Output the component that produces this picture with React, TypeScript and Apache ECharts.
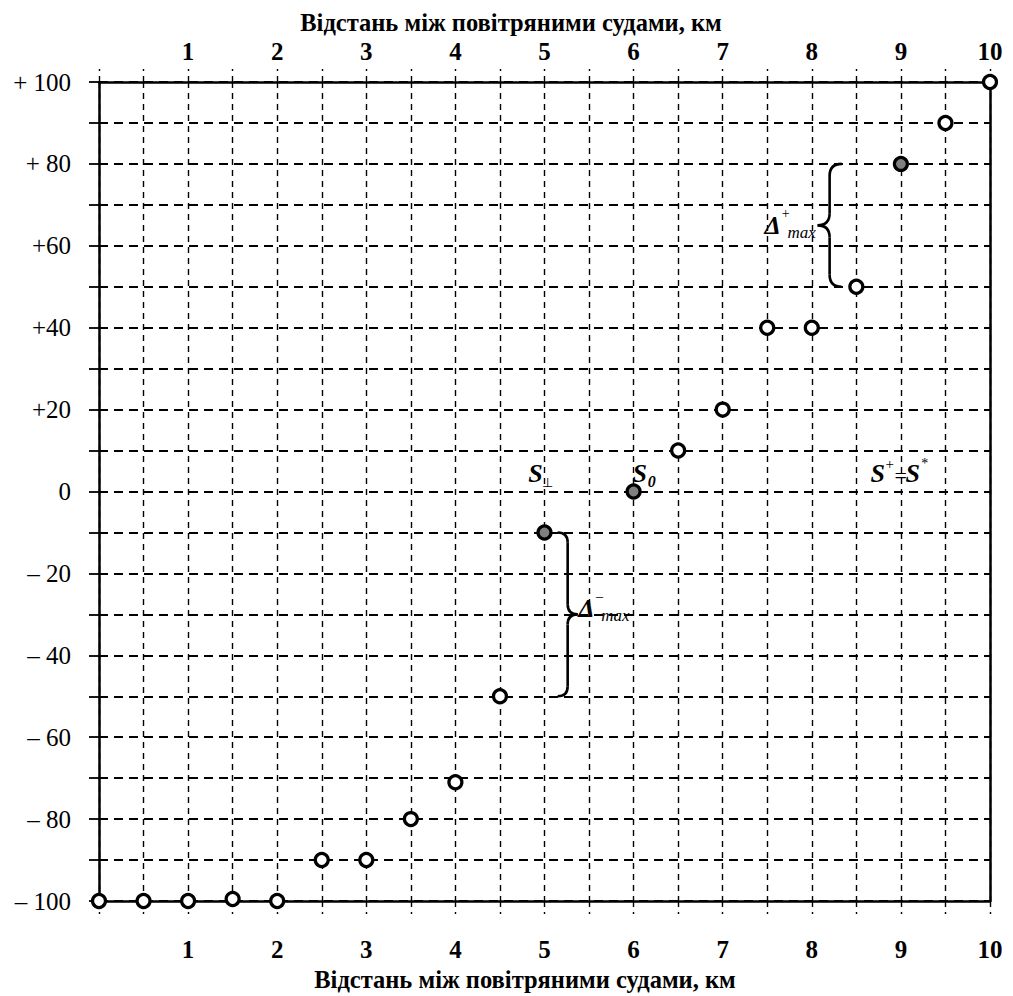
import React, { useEffect, useRef } from "react";
import * as echarts from "echarts";

const xValues = [0, 0.5, 1, 1.5, 2, 2.5, 3, 3.5, 4, 4.5, 5, 6, 6.5, 7, 7.5, 8, 8.5, 9, 9.5, 10];
const yValues = [-100, -100, -100, -99.5, -100, -90, -90, -80, -71, -50, -10, 0, 10, 20, 40, 40, 50, 80, 90, 100];
const filledX = [5, 6, 9];
const xTickLabels = ["1", "2", "3", "4", "5", "6", "7", "8", "9", "10"];
const yTickValues = [100, 80, 60, 40, 20, 0, -20, -40, -60, -80, -100];
const yTickLabels = ["+ 100", "+ 80", "+60", "+40", "+20", "0", "\u2013 20", "\u2013 40", "\u2013 60", "\u2013 80", "\u2013 100"];
const axisTitle = "Відстань між повітряними судами, км";

const SERIF = "Liberation Serif";

function xLabel(v: number) {
  const i = xTickLabels.indexOf(String(v));
  return i >= 0 && v !== 0 ? xTickLabels[i] : "";
}
function yLabel(v: number) {
  const i = yTickValues.indexOf(v);
  return i >= 0 ? yTickLabels[i] : "";
}

export default function App() {
  const ref = useRef<HTMLDivElement>(null);
  useEffect(() => {
    if (!ref.current) return;
    const chart = echarts.init(ref.current, null, { renderer: "svg" });
    const open: number[][] = [];
    const filled: number[][] = [];
    xValues.forEach((x, i) => {
      (filledX.includes(x) ? filled : open).push([x, yValues[i]]);
    });
    const xAxisCommon = {
      type: "value",
      min: 0,
      max: 10,
      interval: 0.5,
      axisLine: { show: true, onZero: false, lineStyle: { color: "#000", width: 2.5 } },
      axisTick: { show: true, inside: false, length: 13, lineStyle: { color: "#000", width: 1.4, type: [6, 5] } },
      axisLabel: {
        formatter: (v: number) => xLabel(v),
        fontFamily: SERIF,
        fontWeight: "bold",
        fontSize: 25,
        color: "#000",
        showMinLabel: true,
        showMaxLabel: true,
        hideOverlap: false,
      },
    };
    const option: any = {
      animation: false,
      backgroundColor: "#fff",
      textStyle: { fontFamily: SERIF },
      grid: { left: 99, right: 23, top: 82, bottom: 95, containLabel: false },
      xAxis: [
        {
          ...xAxisCommon,
          position: "bottom",
          axisLabel: { ...xAxisCommon.axisLabel, margin: 36 },
          splitLine: { show: true, lineStyle: { color: "#000", width: 1.4, type: [6, 5] } },
        },
        {
          ...xAxisCommon,
          position: "top",
          axisLabel: { ...xAxisCommon.axisLabel, margin: 18 },
          splitLine: { show: false },
        },
      ],
      yAxis: [
        {
          type: "value",
          min: -100,
          max: 100,
          interval: 10,
          position: "left",
          axisLine: { show: true, onZero: false, lineStyle: { color: "#000", width: 2.5 } },
          axisTick: { show: true, length: 10, lineStyle: { color: "#000", width: 1.8 } },
          axisLabel: {
            formatter: (v: number) => yLabel(v),
            fontFamily: SERIF,
            fontSize: 25,
            color: "#000",
            margin: 28,
          },
          splitLine: { show: true, lineStyle: { color: "#000", width: 1.8, type: [9, 6] } },
        },
        {
          type: "value",
          min: -100,
          max: 100,
          interval: 10,
          position: "right",
          axisLine: { show: true, onZero: false, lineStyle: { color: "#000", width: 2.5 } },
          axisTick: { show: false },
          axisLabel: { show: false },
          splitLine: { show: false },
        },
      ],
      series: [
        {
          type: "scatter",
          data: open,
          clip: false,
          symbol: "circle",
          symbolSize: 13,
          itemStyle: { color: "#fff", borderColor: "#000", borderWidth: 3.2, opacity: 1 },
          z: 5,
        },
        {
          type: "scatter",
          data: filled,
          clip: false,
          symbol: "circle",
          symbolSize: 13,
          itemStyle: { color: "#808080", borderColor: "#000", borderWidth: 3.2, opacity: 1 },
          z: 5,
        },
      ],
    };
    chart.setOption(option);

    const px = (x: number, y: number) => chart.convertToPixel({ gridIndex: 0 }, [x, y]) as number[];
    const txt = (x: number, y: number, text: string, size: number, opts: any = {}) => ({
      type: "text",
      x,
      y,
      z: 20,
      style: {
        text,
        fontFamily: SERIF,
        fontSize: size,
        fontStyle: opts.italic === false ? "normal" : "italic",
        fontWeight: opts.bold === false ? "normal" : "bold",
        fill: "#000",
        align: "center",
        verticalAlign: "middle",
      },
    });
    const brace = (xv: number, y1: number, y2: number, r: number) => {
      const ym = (y1 + y2) / 2;
      const xe = xv + r;
      const xt = xv - r;
      const st = { stroke: "#000", lineWidth: 2.6, fill: "none" };
      const a = Math.abs(r);
      return {
        type: "group",
        z: 20,
        children: [
          { type: "bezierCurve", shape: { x1: xe, y1: y1, cpx1: xv, cpy1: y1, x2: xv, y2: y1 + a }, style: st },
          { type: "line", shape: { x1: xv, y1: y1 + a, x2: xv, y2: ym - a }, style: st },
          { type: "bezierCurve", shape: { x1: xv, y1: ym - a, cpx1: xv, cpy1: ym, x2: xt, y2: ym }, style: st },
          { type: "bezierCurve", shape: { x1: xt, y1: ym, cpx1: xv, cpy1: ym, x2: xv, y2: ym + a }, style: st },
          { type: "line", shape: { x1: xv, y1: ym + a, x2: xv, y2: y2 - a }, style: st },
          { type: "bezierCurve", shape: { x1: xv, y1: y2 - a, cpx1: xv, cpy1: y2, x2: xe, y2: y2 }, style: st },
        ],
      };
    };

    const top = px(0, 100);
    const bottom = px(0, -100);
    const bPlusTop = px(8.2, 80);
    const bPlusBot = px(8.2, 50);
    const bMinTop = px(5.26, -10);
    const bMinBot = px(5.26, -50);
    const sPerp = px(4.9, 4.5);
    const s0 = px(6.07, 4.5);
    const sStar = px(8.74, 4.5);
    const dPlus = px(7.56, 65);
    const dMin = px(5.47, -28.5);

    chart.setOption({
      graphic: [
        txt(511, top[1] - 60, axisTitle, 24.5, { italic: false }),
        txt(525, bottom[1] + 78, axisTitle, 24.5, { italic: false }),
        brace(bPlusTop[0], bPlusTop[1], bPlusBot[1], 12),
        brace(bMinTop[0], bMinTop[1], bMinBot[1], -10),
        // S perpendicular
        txt(sPerp[0], sPerp[1], "S", 26),
        txt(sPerp[0] + 12, sPerp[1] + 9, "\u22a5", 13, { italic: false, bold: false }),
        // S0
        txt(s0[0], s0[1], "S", 26),
        txt(s0[0] + 12, s0[1] + 8, "0", 16),
        // S+ = S*
        txt(sStar[0], sStar[1], "S", 26),
        txt(sStar[0] + 12, sStar[1] - 9, "+", 15, { italic: false, bold: false }),
        txt(sStar[0] + 23, sStar[1] + 2, "=", 22, { italic: false, bold: false }),
        txt(sStar[0] + 35, sStar[1], "S", 26),
        txt(sStar[0] + 47, sStar[1] - 10, "*", 14, { italic: false, bold: false }),
        // Delta + max
        txt(dPlus[0], dPlus[1], "\u0394", 26),
        txt(dPlus[0] + 13, dPlus[1] - 12, "+", 14, { italic: false, bold: false }),
        txt(dPlus[0] + 29, dPlus[1] + 7, "max", 17, { bold: false }),
        // Delta - max
        txt(dMin[0], dMin[1], "\u0394", 26),
        txt(dMin[0] + 13, dMin[1] - 12, "\u2013", 14, { italic: false, bold: false }),
        txt(dMin[0] + 29, dMin[1] + 7, "max", 17, { bold: false }),
      ],
    });
    return () => chart.dispose();
  }, []);
  return <div ref={ref} style={{ position: "absolute", left: 0, top: 0, width: 1013, height: 996 }} />;
}
